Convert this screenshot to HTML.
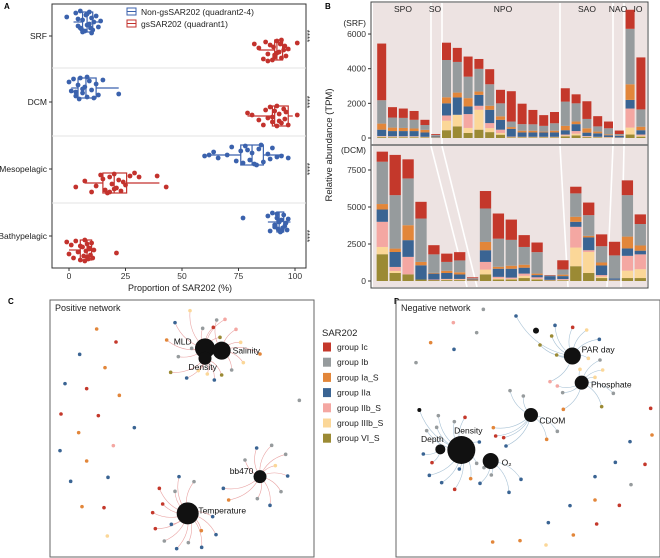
<!DOCTYPE html>
<html><head><meta charset="utf-8"><style>
body{margin:0;background:#fff;}
svg{display:block;font-family:"Liberation Sans",Arial,sans-serif;}
</style></head><body>
<svg id="fig" width="660" height="558" viewBox="0 0 660 558" xmlns="http://www.w3.org/2000/svg">
<g id="pa"></g>
<g id="pb"></g>
<g id="pc"></g>
<g id="pd"></g>
<g id="lg"></g>
</svg>
<script>
// ===== Panel A data =====
const aCategories = ["SRF","DCM","Mesopelagic","Bathypelagic"];
const aXTicks = [0,25,50,75,100];
const aBlueBox = [[2,6,8,10.5,14],[1,4,7.5,12,22],[61,76,81,86,95],[88,92,93,95,98]];
const aRedBox = [[84,91,92,94.5,98],[79,90,91,97,99],[7,15,20,25.5,40],[0,5,8,10,12]];
const aBlueVals = [
 [-1,3,4,5,5.5,6,7,7.5,8,9,9.5,10,10.5,11,12,13,14,6,8,9,10,4,5],
 [0,1,2,3,4,4.5,5,6,7,8,9,10,11,12,13,15,22,6,8,3],
 [60,62,64,66,70,72,74,76,77,78,80,81,82,84,85,86,88,89,90,92,94,97,79,83],
 [77,88,89,90,91,92,92.5,93,93.5,94,94.5,95,95.5,96,96.5,97,91,92,94,93]];
const aBlueJit = [
 [-5,-9,4,-11,7,-2,9,-7,3,-10,6,-4,8,0,-6,5,-1,10,-8,2,11,-3,6],
 [-6,3,-9,8,-3,11,-10,5,-1,9,-7,2,10,-4,7,-8,6,1,-11,4],
 [1,0,-3,3,0,-8,6,-4,8,-9,5,-2,9,-6,-10,7,-1,4,-7,2,1,3,-5,10],
 [-4,-6,9,-9,3,-4,7,0,10,-2,6,-7,4,1,8,-3,5,-8,9,-1]];
const aRedVals = [
 [82,84,86,87,88,89,90,90.5,91,92,93,93.5,94,95,95.5,96,97,101,88,92,94,91],
 [79,81,84,86,87,88,89,90,91,92,93,94,95,95.5,96,97,101,90,92,93],
 [3,7,10,12,14,15,16,17,18,19,20,21,22,23,24,25,27,29,31,39,43,20,18],
 [-1,0,1,2,3,4,5,6,6.5,7,7.5,8,8.5,9,9.5,10,10.5,11,21,5,8,9,7]];
const aRedJit = [
 [-6,-2,9,-8,4,-5,10,-3,7,-9,2,-6,8,0,-4,6,-1,-7,11,3,-10,5],
 [-3,-1,4,9,-6,2,-9,6,-5,10,-2,7,-7,3,-4,9,-1,1,-10,5],
 [4,-2,9,3,-8,-4,7,10,-6,1,-9,5,-3,8,-1,2,-7,-10,-6,-7,4,6,9],
 [-8,4,-5,8,-9,2,10,-3,6,-10,1,-6,9,-2,5,-7,8,0,3,-4,7,-1,11]];
// ===== Panel B data =====
const bGroups = ["VI_S","IIIb_S","IIb_S","IIa","Ia_S","Ib","Ic"];
const bSrfTicks = [0,2000,4000,6000];
const bDcmTicks = [0,2500,5000,7500];
const bSrf = [
 [50,30,30,370,350,1350,3270],[40,30,30,300,200,580,600],[40,30,30,300,180,580,540],
 [40,30,30,300,150,500,510],[30,20,20,250,150,280,300],[20,10,10,60,20,60,50],
 [450,550,300,700,350,2150,1000],[670,670,0,1000,280,1770,810],[290,290,800,440,480,1240,1160],
 [480,1150,230,630,190,1310,570],[340,230,290,770,230,1240,870],[190,100,190,570,200,750,780],
 [30,20,30,450,100,320,1750],[30,20,20,250,100,380,1180],[30,20,20,250,100,370,830],
 [30,20,20,250,50,330,620],[30,20,20,250,100,430,650],[100,50,50,250,250,1400,770],
 [150,100,150,400,150,1050,520],[50,30,30,200,250,540,1020],[30,20,20,200,100,300,590],
 [20,20,20,100,50,350,390],[10,10,10,100,20,80,200],[200,400,1100,500,900,3200,1100],
 [80,60,60,250,200,1000,3000]];
const bDcm = [
 [1810,490,1700,830,370,2860,680],[540,140,270,1010,230,3610,2720],[450,0,1180,1130,1010,3160,1290],
 [100,0,0,960,230,2930,1130],[60,0,40,400,50,1250,620],[60,40,40,400,150,600,560],
 [60,40,40,300,150,800,560],[40,0,20,40,30,60,60],[450,320,520,790,560,2260,1180],
 [100,80,100,550,130,1900,1700],[100,50,80,600,200,1750,1370],[200,150,150,400,200,1200,800],
 [100,50,100,150,100,1450,650],[50,0,30,250,0,40,30],[50,30,50,200,100,350,620],
 [1000,1260,1400,340,340,1580,450],[540,1420,120,860,110,1400,850],[200,100,100,650,200,1100,800],
 [50,0,30,100,0,1550,920],[200,500,1000,500,800,2800,1000],[200,600,1000,250,350,1450,650]];
const bRegions = ["SPO","SO","NPO","SAO","NAO","IO"];

const NS="http://www.w3.org/2000/svg";
function mk(parent,tag,attrs,text){const e=document.createElementNS(NS,tag);for(const k in attrs)e.setAttribute(k,attrs[k]);if(text!==undefined)e.textContent=text;parent.appendChild(e);return e;}
const COL={c:"#c4382b",b:"#969b9d",o:"#e2863a",l:"#3a6493",p:"#f4a7a2",y:"#fbd798",v:"#9b8a34",k:"#111"};
const segCol=[COL.v,COL.y,COL.p,COL.l,COL.o,COL.b,COL.c];

// ----- Panel A -----
(function(){
 const g=document.getElementById('pa');
 let t=mk(g,'text',{x:4,y:9,'font-size':8,'font-weight':'bold'},'A');
 
 const X=v=>69+v*2.26;
 const bands=[36,102,169,236];
 mk(g,'rect',{x:52,y:4,width:254,height:264,fill:'#fff',stroke:'#333','stroke-width':1});
 [68,136,203].forEach(y=>mk(g,'line',{x1:52,x2:306,y1:y,y2:y,stroke:'#e3e3e3','stroke-width':1}));
 aXTicks.forEach(v=>{mk(g,'line',{x1:X(v),x2:X(v),y1:268,y2:271,stroke:'#333'});
  const e=mk(g,'text',{x:X(v),y:279,'font-size':8.5,'text-anchor':'middle',fill:'#333'},String(v));
  });
 aCategories.forEach((c,i)=>{mk(g,'line',{x1:49,x2:52,y1:bands[i],y2:bands[i],stroke:'#333'});
  const e=mk(g,'text',{x:47,y:bands[i]+3,'font-size':8.5,'text-anchor':'end',fill:'#222'},c);
  });
 const xt=mk(g,'text',{x:180,y:291,'font-size':9,'text-anchor':'middle',fill:'#222'},'Proportion of SAR202 (%)');
 
 function box(s,cy,col){const q=mk(g,'g',{});
  
  mk(q,'line',{x1:X(s[0]),x2:X(s[1]),y1:cy,y2:cy,stroke:col,'stroke-width':1.2});
  mk(q,'line',{x1:X(s[3]),x2:X(s[4]),y1:cy,y2:cy,stroke:col,'stroke-width':1.2});
  mk(q,'rect',{x:X(s[1]),y:cy-10,width:X(s[3])-X(s[1]),height:20,fill:'none',stroke:col,'stroke-width':1.2});
  mk(q,'line',{x1:X(s[2]),x2:X(s[2]),y1:cy-10,y2:cy+10,stroke:col,'stroke-width':1.2});}
 function pts(vals,jit,cy,col){vals.forEach((v,j)=>{const c=mk(g,'circle',{cx:X(v),cy:cy+jit[j],r:2.4,fill:col});
  });}
 const blue="#3b62ad",red="#c3322d";
 aCategories.forEach((c,i)=>{
  box(aBlueBox[i],bands[i]-14,blue);box(aRedBox[i],bands[i]+14,red);
  pts(aBlueVals[i],aBlueJit[i],bands[i]-14,blue);pts(aRedVals[i],aRedJit[i],bands[i]+14,red);
  const s=mk(g,'text',{x:306,y:bands[i]+2,'font-size':8,'text-anchor':'middle',fill:'#333',transform:`rotate(90 306 ${bands[i]})`},'****');
  
 });
 [[blue,'Non-gsSAR202 (quadrant2-4)',12],[red,'gsSAR202 (quadrant1)',24]].forEach(([col,lab,y])=>{
  const q=mk(g,'g',{});
  mk(q,'rect',{x:127,y:y-4,width:9,height:7,fill:'none',stroke:col,'stroke-width':1});
  mk(q,'line',{x1:127,x2:136,y1:y-0.5,y2:y-0.5,stroke:col});
  mk(q,'text',{x:141,y:y+3,'font-size':8.5,fill:'#222'},lab);});
})();

// ----- Panel B -----
(function(){
 const g=document.getElementById('pb');
 let t=mk(g,'text',{x:325,y:9,'font-size':8,'font-weight':'bold'},'B');
 
 const L=373,R=647;
 mk(g,'rect',{x:371,y:2,width:277,height:286,fill:'#fff',stroke:'#444','stroke-width':1});
 mk(g,'rect',{x:L,y:3,width:R-L,height:141,fill:'#ede3e2'});
 mk(g,'rect',{x:L,y:146,width:R-L,height:141,fill:'#ede3e2'});
 const Yt=v=>138-v*0.01733, Yb=v=>281-v*0.0148;
 // region separators
 [[431,467],[442,477],[560,568],[613,607],[624,621]].forEach(([a,b])=>{
  mk(g,'line',{x1:a,x2:a,y1:3,y2:144,stroke:'#fff','stroke-width':1.6});
  mk(g,'line',{x1:a,x2:b,y1:146,y2:287,stroke:'#fff','stroke-width':1.6});});
 mk(g,'line',{x1:371,x2:648,y1:145,y2:145,stroke:'#777','stroke-width':1.8});
 const rx=[403,435,503,587,618,638];
 bRegions.forEach((r,i)=>{const e=mk(g,'text',{x:rx[i],y:12,'font-size':8.5,'text-anchor':'middle',fill:'#222'},r);
  });
 function bars(data,x0,step,w,Y){data.forEach((segs,i)=>{let acc=0;const cx=x0+i*step;
  segs.forEach((v,k)=>{if(v<=0)return;const y1=Y(acc+v),y0=Y(acc);acc+=v;
   const r=mk(g,'rect',{x:cx-w/2,y:y1,width:w,height:y0-y1,fill:segCol[k]});
   
   });});}
 bars(bSrf,381.7,10.8,9,Yt);
 bars(bDcm,382.3,12.9,11.3,Yb);
 bSrfTicks.forEach(v=>{mk(g,'line',{x1:368,x2:371,y1:Yt(v),y2:Yt(v),stroke:'#333'});
  const e=mk(g,'text',{x:366,y:Yt(v)+3,'font-size':8.5,'text-anchor':'end',fill:'#333'},String(v));
  });
 bDcmTicks.forEach(v=>{mk(g,'line',{x1:368,x2:371,y1:Yb(v),y2:Yb(v),stroke:'#333'});
  const e=mk(g,'text',{x:366,y:Yb(v)+3,'font-size':8.5,'text-anchor':'end',fill:'#333'},String(v));
  });
 let s=mk(g,'text',{x:366,y:26,'font-size':8.5,'text-anchor':'end',fill:'#222'},'(SRF)');
 
 s=mk(g,'text',{x:366,y:153,'font-size':8.5,'text-anchor':'end',fill:'#222'},'(DCM)');
 
 s=mk(g,'text',{x:332,y:145,'font-size':9.5,'text-anchor':'middle',fill:'#222',transform:'rotate(-90 332 145)'},'Relative abundance (TPM)');
 
})();

// ----- Networks -----
function network(gid,ox,oy,hubs,sats,iso,edgeCol,box,title,letter,lx){
 const g=document.getElementById(gid);
 let t=mk(g,'text',{x:lx,y:304,'font-size':8,'font-weight':'bold'},letter);
 
 mk(g,'rect',{x:box[0],y:box[1],width:box[2],height:box[3],fill:'#fff',stroke:'#666','stroke-width':1});
 t=mk(g,'text',{x:box[0]+5,y:box[1]+11,'font-size':9,fill:'#222'},title);
 
 const P=(x,y)=>[ox+x/3,oy+y/3];
 sats.forEach(([x,y,c,h])=>{const [a,b]=P(x,y);const hb=hubs[h];const [hx,hy]=P(hb[0],hb[1]);
  const mx=(a+hx)/2+(b-hy)*0.25,my=(b+hy)/2-(a-hx)*0.25;
  const e=mk(g,'path',{d:`M${hx},${hy} Q${mx},${my} ${a},${b}`,fill:'none',stroke:edgeCol,'stroke-width':0.6});
  });
 sats.concat(iso).forEach(([x,y,c])=>{const [a,b]=P(x,y);
  const e=mk(g,'circle',{cx:a,cy:b,r:c==='k'?2:1.8,fill:COL[c]});
  });
 hubs.forEach(([x,y,r,lab,tx,ty,anc])=>{const [a,b]=P(x,y);
  const e=mk(g,'circle',{cx:a,cy:b,r:r,fill:'#111'});
  
  if(lab){const [p,q]=P(tx,ty);const l=mk(g,'text',{x:p,y:q,'font-size':8.5,'text-anchor':anc,fill:'#111'},lab);
   }});
}
// positive network
network('pc',0,290,
 [[615,175,10,'MLD',548,163,'middle'],[615,205,6.5,'Density',608,240,'middle'],[665,182,9,'Salinity',698,191,'start'],
  [563,670,11,'Temperature',595,670,'start'],[780,560,6.5,'bb470',760,552,'end']],
 [[570,62,'y',0],[525,98,'l',0],[640,112,'c',0],[675,88,'p',0],[708,118,'p',2],[608,115,'b',0],[660,142,'v',0],[500,150,'o',0],
  [722,157,'y',2],[575,175,'b',0],[535,200,'b',0],[780,192,'o',2],[730,218,'y',2],[695,240,'b',2],[665,255,'v',1],[643,270,'l',1],
  [622,252,'y',1],[595,242,'y',1],[560,264,'l',1],[512,247,'v',1],[650,90,'b',2],
  [537,560,'l',3],[582,575,'b',3],[525,604,'b',3],[478,595,'c',3],[488,642,'c',3],[458,668,'c',3],[466,716,'c',3],[493,753,'b',3],
  [530,776,'l',3],[565,758,'b',3],[605,772,'l',3],[648,734,'l',3],[604,722,'o',3],[514,703,'l',3],[638,680,'l',3],[686,630,'o',4],[670,595,'l',4],
  [770,474,'l',4],[815,466,'b',4],[857,493,'b',4],[826,527,'y',4],[863,558,'l',4],[843,605,'b',4],[810,646,'l',4],[772,626,'b',4],[735,510,'b',4]],
 [[290,117,'o'],[348,156,'c'],[239,193,'l'],[315,233,'o'],[195,281,'l'],[260,296,'c'],[358,316,'o'],[183,372,'c'],[295,377,'c'],
  [236,428,'o'],[403,413,'l'],[340,467,'p'],[180,482,'l'],[260,513,'o'],[212,574,'l'],[324,562,'l'],[246,650,'o'],[312,653,'c'],[322,738,'y'],[898,331,'b']],
 '#e9a3a3',[50,300,264,257],'Positive network','C',8);
// negative network
network('pd',330,290,
 [[727,198,8.5,'PAR day',755,188,'start'],[755,278,7,'Phosphate',783,293,'start'],[603,375,7,'CDOM',628,400,'start'],
  [394,480,14,'Density',415,430,'middle'],[331,478,5,'Depth',307,456,'middle'],[482,513,8,'O₂',515,527,'start'],
  [618,122,3,'',0,0,'start']],
 [[558,78,'l',0],[675,106,'l',0],[728,112,'c',0],[770,120,'y',0],[808,148,'l',0],[665,138,'v',0],[630,165,'v',0],[680,195,'v',0],
  [775,205,'y',0],[810,210,'b',1],[750,238,'y',1],[818,240,'y',1],[795,262,'y',1],[660,275,'p',0],[682,288,'p',1],[698,308,'b',1],
  [540,302,'b',2],[580,318,'b',2],[850,310,'b',1],[815,350,'v',1],[700,358,'o',1],[682,424,'b',2],[650,448,'o',2],
  [490,413,'o',2],[497,438,'c',2],[521,443,'c',2],[528,468,'l',2],[448,456,'l',3],
  [268,360,'k',3],[325,377,'b',3],[405,382,'c',3],[373,395,'b',3],[290,422,'b',3],[320,412,'b',3],
  [280,492,'l',4],[306,518,'c',4],[298,556,'l',3],[335,578,'l',3],[374,598,'c',3],[388,537,'l',3],[422,566,'o',3],[450,580,'l',5],
  [462,533,'b',5],[484,555,'b',5],[440,520,'b',3],[573,568,'l',5],[537,607,'l',5]],
 [[460,58,'b'],[370,98,'p'],[440,128,'b'],[302,158,'o'],[372,178,'l'],[258,218,'b'],[962,355,'c'],[966,435,'o'],[900,455,'l'],
  [856,517,'l'],[945,523,'c'],[795,560,'l'],[903,584,'b'],[795,630,'o'],[868,646,'c'],[720,647,'l'],[655,698,'l'],[800,702,'c'],
  [730,735,'o'],[488,756,'o'],[570,752,'o'],[648,765,'y']],
 '#a9c3d6',[396,300,264,257],'Negative network','D',394);

// ----- Legend -----
(function(){
 const g=document.getElementById('lg');
 const t=mk(g,'text',{x:322,y:336,'font-size':9.5,fill:'#222'},'SAR202');
 
 const labs=['group Ic','group Ib','group Ia_S','group IIa','group IIb_S','group IIIb_S','group VI_S'];
 const cols=[COL.c,COL.b,COL.o,COL.l,COL.p,COL.y,COL.v];
 labs.forEach((l,i)=>{const y=347+i*15.2;const q=mk(g,'g',{});
  
  mk(q,'rect',{x:323,y:y-4.5,width:8,height:9,fill:cols[i]});
  mk(q,'text',{x:337,y:y+3,'font-size':8.5,fill:'#222'},l);});
})();
</script>
</body></html>
